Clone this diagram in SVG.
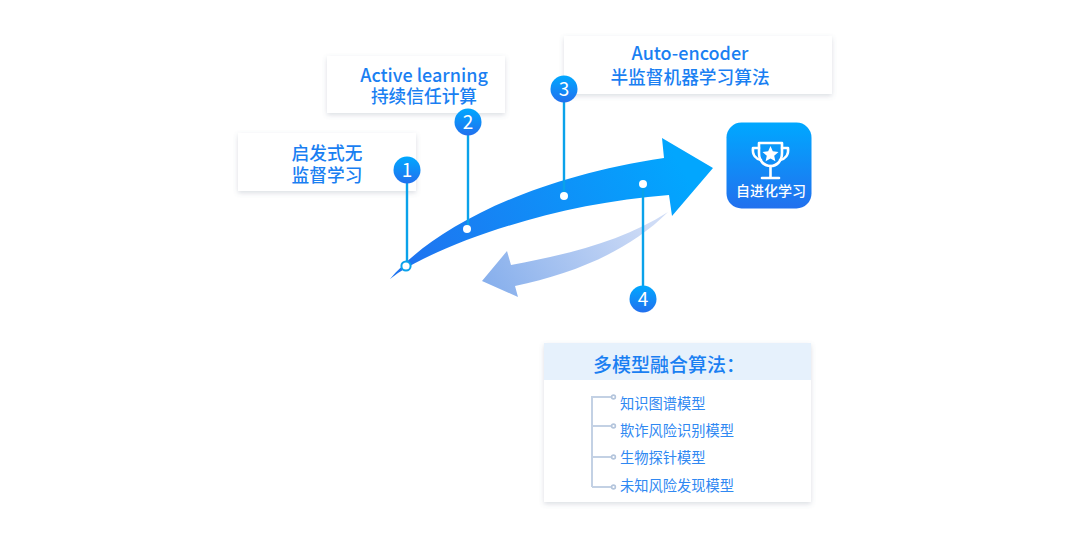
<svg xmlns="http://www.w3.org/2000/svg" width="1080" height="540" viewBox="0 0 1080 540">
  <defs>
    <linearGradient id="mainFill" x1="0" y1="0" x2="0" y2="1">
      <stop offset="0" stop-color="#00a8ff"/>
      <stop offset="1" stop-color="#2270ee"/>
    </linearGradient>
    <linearGradient id="sweepFill" gradientUnits="userSpaceOnUse" x1="420" y1="280" x2="670" y2="145">
      <stop offset="0" stop-color="#1f74f0"/>
      <stop offset="1" stop-color="#02a6fe"/>
    </linearGradient>
    <linearGradient id="returnFill" gradientUnits="userSpaceOnUse" x1="490" y1="300" x2="640" y2="205">
      <stop offset="0" stop-color="#85aeec"/>
      <stop offset="1" stop-color="#cfdcf6"/>
    </linearGradient>
    <filter id="cardShadow" x="-10%" y="-20%" width="120%" height="140%">
      <feDropShadow dx="0" dy="2" stdDeviation="2.5" flood-color="#5a6a80" flood-opacity="0.22"/>
    </filter>
    <style>
      text { font-family: "Noto Sans CJK SC", "Noto Sans", sans-serif; text-anchor: middle; font-weight: 500; }
      .card { fill: #ffffff; filter: url(#cardShadow); }
      .label { fill: #1a7ff2; font-size: 17.7px; }
      .latin { font-size: 18px; }
      .item { fill: #2f88f2; font-size: 14.250px; text-anchor: start; font-weight: 400; }
      .badge { fill: url(#mainFill); }
      .num { fill: #ffffff; font-size: 19px; font-weight: 400; }
      .stem { stroke: #0aa2ea; stroke-width: 2.4; fill: none; }
      .tree { stroke: #c3d1e4; stroke-width: 2; fill: none; }
      .leaf { fill: #ffffff; stroke: #b4c5dc; stroke-width: 1.6; }
      .dot { fill: #ffffff; }
    </style>
  </defs>

  <g id="card-heuristic">
    <rect class="card" x="238" y="133" width="178" height="58"/>
    <text class="label" x="327" y="160">启发式无</text>
    <text class="label" x="327" y="182">监督学习</text>
  </g>
  <g id="card-active">
    <rect class="card" x="327" y="56" width="178" height="57"/>
    <text class="label latin" x="424" y="82">Active learning</text>
    <text class="label" x="424" y="103">持续信任计算</text>
  </g>
  <g id="card-autoencoder">
    <rect class="card" x="564" y="36" width="268" height="58"/>
    <text class="label latin" x="690" y="60">Auto-encoder</text>
    <text class="label" x="690" y="84">半监督机器学习算法</text>
  </g>

  <g id="connectors">
    <path id="return-arrow" fill="url(#returnFill)" d="M668 212 C628 252 572 274 515 286 L518 297 L482 281 L507 251 L511 265 C570 254 625 240 668 212 Z"/>
    <path id="sweep-arrow" fill="url(#sweepFill)" d="M390 279 C428 234 518 180 664 158 L662 138 L713 168 L672 216 L669 195 C560 203 450 240 398 273 Z"/>
    <path class="stem" d="M407 170 V266"/>
    <path class="stem" d="M468 122 V229"/>
    <path class="stem" d="M564 89 V196"/>
    <path class="stem" d="M643 184 V299"/>
    <circle cx="406" cy="266" r="4.600" fill="#ffffff" stroke="#0aa2ea" stroke-width="2"/>
    <circle class="dot" cx="467" cy="229" r="4"/>
    <circle class="dot" cx="564" cy="196" r="4"/>
    <circle class="dot" cx="643" cy="184" r="4"/>
  </g>

  <g id="badge-1"><circle class="badge" cx="407" cy="170" r="13.500"/><text class="num" x="407" y="176.500">1</text></g>
  <g id="badge-2"><circle class="badge" cx="468" cy="122" r="13.500"/><text class="num" x="468" y="128.500">2</text></g>
  <g id="badge-3"><circle class="badge" cx="564" cy="89" r="13.500"/><text class="num" x="564" y="95.500">3</text></g>
  <g id="badge-4"><circle class="badge" cx="643" cy="299" r="13.500"/><text class="num" x="643" y="306">4</text></g>

  <g id="goal-tile">
    <rect x="726.500" y="122.500" width="85" height="86" rx="15" fill="url(#mainFill)"/>
    <g fill="none" stroke="#ffffff" stroke-width="2.600" stroke-linejoin="round" stroke-linecap="round">
      <path d="M759 143 H782 V153 C782 161 777 166 770.500 166 C764 166 759 161 759 153 Z"/>
      <path d="M759 148 H753 C752 155 756 159 761 160"/>
      <path d="M782 148 H788 C789 155 785 159 780 160"/>
      <path d="M770.500 166 V177"/>
      <path d="M762 178 H779"/>
    </g>
    <path fill="#ffffff" d="M770.500 146 L772.800 151.300 L778.500 151.900 L774.200 155.700 L775.400 161.300 L770.500 158.400 L765.600 161.300 L766.800 155.700 L762.500 151.900 L768.200 151.300 Z"/>
    <text x="771" y="196" fill="#ffffff" font-size="14px" font-weight="400">自进化学习</text>
  </g>

  <g id="model-panel">
    <rect class="card" x="544" y="343" width="267" height="159"/>
    <rect x="544" y="343" width="267" height="37" fill="#e6f1fc"/>
    <text x="593" y="372" fill="#1a7ff2" font-size="19px" style="text-anchor:start">多模型融合算法：</text>
    <path class="tree" d="M592 487 V397 H612 M592 426 H612 M592 457 H612 M592 487 H612"/>
    <circle class="leaf" cx="613.500" cy="397" r="1.900"/>
    <circle class="leaf" cx="613.500" cy="426" r="1.900"/>
    <circle class="leaf" cx="613.500" cy="457" r="1.900"/>
    <circle class="leaf" cx="613.500" cy="487" r="1.900"/>
    <text class="item" x="620" y="409">知识图谱模型</text>
    <text class="item" x="620" y="436">欺诈风险识别模型</text>
    <text class="item" x="620" y="463">生物探针模型</text>
    <text class="item" x="620" y="491">未知风险发现模型</text>
  </g>
</svg>
